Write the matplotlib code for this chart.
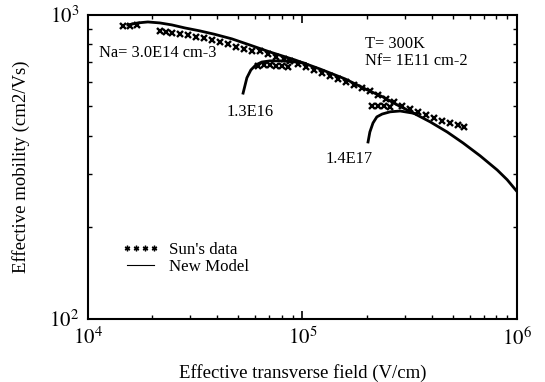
import numpy as np
import matplotlib.pyplot as plt
from matplotlib.lines import Line2D
from matplotlib.ticker import LogLocator, FixedLocator, FuncFormatter, NullFormatter

plt.rcParams["font.family"] = ["Liberation Serif", "DejaVu Serif"]
plt.rcParams["mathtext.fontset"] = "stix"

# New Model, Na = 3.0E14 cm-3
model_x = [1.537e4, 1.71e4, 1.905e4, 2.167e4, 2.464e4, 2.834e4, 3.327e4, 3.909e4,
           4.692e4, 5.69e4, 7.055e4, 9.23e4, 1.206e5, 1.578e5, 2.0e5, 2.373e5,
           2.758e5, 3.275e5, 3.93e5, 4.72e5, 5.6e5, 6.72e5, 8.07e5, 8.98e5, 1.0e6]
model_y = [927, 941, 948, 941, 927, 906, 886, 863, 834, 796, 755, 711, 664,
           616, 567, 537, 506, 476, 445, 412, 379, 344, 309, 287, 262]

# New Model, Na = 1.3E16
m16_x = [5.29e4, 5.51e4, 5.75e4, 6.07e4, 6.47e4, 7.06e4, 7.85e4, 8.76e4, 1.03e5]
m16_y = [553, 621, 659, 685, 700, 706, 706, 704, 693]

# New Model, Na = 1.4E17
m17_x = [2.02e5, 2.06e5, 2.13e5, 2.22e5, 2.35e5, 2.56e5, 2.85e5, 3.346e5]
m17_y = [382, 412, 441, 462, 472, 480, 483, 474]

# Sun's data
sun_x = [1.455e4, 1.57e4, 1.69e4, 2.17e4, 2.31e4, 2.47e4, 2.69e4, 2.93e4,
         3.19e4, 3.47e4, 3.78e4, 4.12e4, 4.49e4, 4.89e4, 5.33e4, 5.81e4,
         6.34e4, 6.91e4, 7.52e4, 8.2e4, 8.75e4, 9.53e4, 1.038e5, 1.131e5,
         1.233e5, 1.343e5, 1.464e5, 1.595e5, 1.738e5, 1.894e5, 2.064e5,
         2.249e5, 2.451e5, 2.671e5, 2.91e5, 3.171e5, 3.456e5, 3.766e5,
         4.104e5, 4.472e5, 4.873e5, 5.309e5, 5.66e5]
sun_y = [920, 920, 928, 885, 878, 873, 866, 860, 847, 840, 828, 815, 803,
         786, 773, 762, 761, 744, 727, 716, 706, 690, 674, 659, 645, 630,
         616, 602, 589, 575, 562, 546, 529, 517, 502, 491, 480, 469, 458,
         448, 441, 435, 428]
sun16_x = [6.18e4, 6.62e4, 7.06e4, 7.53e4, 8.03e4, 8.57e4]
sun16_y = [679, 685, 685, 679, 679, 674]
sun17_x = [2.10e5, 2.25e5, 2.40e5, 2.56e5]
sun17_y = [502, 502, 502, 498]

fig = plt.figure(figsize=(5.45, 3.82), dpi=100)
ax = fig.add_axes([0.161, 0.165, 0.788, 0.796])

mk = dict(ls="none", marker="x", ms=5, mew=1.7, color="k")
ax.plot(sun_x, sun_y, **mk)
ax.plot(sun16_x, sun16_y, **mk)
ax.plot(sun17_x, sun17_y, **mk)

ax.plot(model_x, model_y, color="k", lw=2)
ax.plot(m16_x, m16_y, color="k", lw=2)
ax.plot(m17_x, m17_y, color="k", lw=2)

ax.set_xscale("log")
ax.set_yscale("log")
ax.set_xlim(1e4, 1e6)
ax.set_ylim(1e2, 1e3)

ax.xaxis.set_major_locator(FixedLocator([1e4, 1e5, 1e6]))
ax.yaxis.set_major_locator(FixedLocator([1e2, 1e3]))
ax.xaxis.set_minor_locator(LogLocator(base=10, subs=np.arange(2, 10)))
ax.yaxis.set_minor_locator(LogLocator(base=10, subs=np.arange(2, 10)))
fmt = FuncFormatter(lambda v, p: r"$10^{%d}$" % round(np.log10(v)))
ax.xaxis.set_major_formatter(fmt)
ax.yaxis.set_major_formatter(fmt)
ax.xaxis.set_minor_formatter(NullFormatter())
ax.yaxis.set_minor_formatter(NullFormatter())
ax.tick_params(which="both", direction="in", top=True, right=True, labelsize=15)
ax.tick_params(which="major", length=6, width=1.2, pad=6)
ax.tick_params(which="minor", length=3, width=1)
for s in ax.spines.values():
    s.set_linewidth(1.5)

ax.set_xlabel("Effective transverse field (V/cm)", fontsize=13.5, labelpad=10)
ax.set_ylabel("Effective mobility (cm2/Vs)", fontsize=13.5, labelpad=14)

ax.text(1.13e4, 750, "Na= 3.0E14 cm-3", fontsize=11.8, va="center")
ax.text(5.69e4, 478, "1.3E16", fontsize=11.8, va="center", ha="center")
ax.text(1.95e5, 800, "T= 300K", fontsize=11.8, va="center")
ax.text(1.95e5, 705, "Nf= 1E11 cm-2", fontsize=11.8, va="center")
ax.text(1.648e5, 336, "1.4E17", fontsize=11.8, va="center", ha="center")

handles = [Line2D([], [], ls="none", marker=(6, 2, 0), ms=4, mew=1, color="k"),
           Line2D([], [], color="k", lw=0.8)]
ax.legend(handles, ["Sun's data", "New Model"], numpoints=4, frameon=False,
          loc="upper left", bbox_to_anchor=(0.043, 0.303), fontsize=12.2,
          handlelength=2.2, handletextpad=0.6, labelspacing=0.05)

fig.savefig("out.png", dpi=100)
